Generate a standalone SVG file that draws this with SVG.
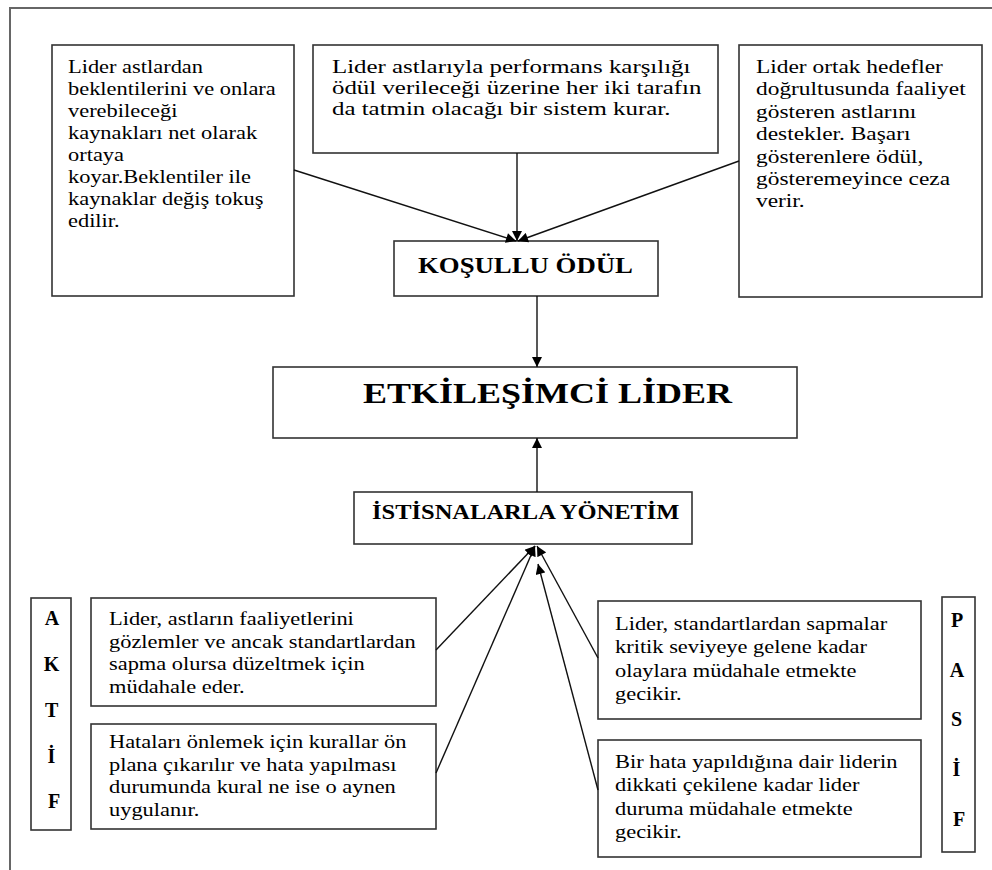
<svg xmlns="http://www.w3.org/2000/svg" width="992" height="870" viewBox="0 0 992 870">
<defs>
<style>
.box{fill:#fff;stroke:#333;stroke-width:1.6}
.t{font-family:"Liberation Serif","Times New Roman",serif;fill:#000}
.b{font-family:"Liberation Serif","Times New Roman",serif;font-weight:bold;fill:#000}
.con{fill:none;stroke:#111;stroke-width:1.4}
.frame{fill:none;stroke:#666;stroke-width:2}
</style>
<marker id="ah" viewBox="0 0 10 10" refX="10" refY="5" markerWidth="11" markerHeight="10" markerUnits="userSpaceOnUse" orient="auto">
<path d="M0,0 L10,5 L0,10 z" fill="#000"/>
</marker>
</defs>
<rect width="992" height="870" fill="#fff"/>
<path class="frame" d="M10,870 L10,8 L992,8"/>

<g id="n-left-top">
<rect class="box" x="52" y="45" width="242" height="251"/>
<text class="t" font-size="19" transform="translate(68,73) scale(1.18,1)">
<tspan x="0" y="0">Lider astlardan</tspan>
<tspan x="0" y="22">beklentilerini ve onlara</tspan>
<tspan x="0" y="44">verebileceği</tspan>
<tspan x="0" y="66">kaynakları net olarak</tspan>
<tspan x="0" y="88">ortaya</tspan>
<tspan x="0" y="110">koyar.Beklentiler ile</tspan>
<tspan x="0" y="132">kaynaklar değiş tokuş</tspan>
<tspan x="0" y="154">edilir.</tspan>
</text>
</g>

<g id="n-mid-top">
<rect class="box" x="313" y="45" width="405" height="108"/>
<text class="t" font-size="19" transform="translate(332,73) scale(1.31,1)">
<tspan x="0" y="0">Lider astlarıyla performans karşılığı</tspan>
<tspan x="0" y="21">ödül verileceği üzerine her iki tarafın</tspan>
<tspan x="0" y="42">da tatmin olacağı bir sistem kurar.</tspan>
</text>
</g>

<g id="n-right-top">
<rect class="box" x="739" y="45" width="243" height="252"/>
<text class="t" font-size="19.5" transform="translate(756,73) scale(1.2,1)">
<tspan x="0" y="0">Lider ortak hedefler</tspan>
<tspan x="0" y="22.4">doğrultusunda faaliyet</tspan>
<tspan x="0" y="44.8">gösteren astlarını</tspan>
<tspan x="0" y="67.2">destekler. Başarı</tspan>
<tspan x="0" y="89.6">gösterenlere ödül,</tspan>
<tspan x="0" y="112">gösteremeyince ceza</tspan>
<tspan x="0" y="134.4">verir.</tspan>
</text>
</g>

<g id="n-kosullu">
<rect class="box" x="394" y="241" width="264" height="55"/>
<text class="b" font-size="22.5" transform="translate(418,273) scale(1.19,1)">KOŞULLU ÖDÜL</text>
</g>

<g id="n-etkilesimci">
<rect class="box" x="273" y="367" width="524" height="71"/>
<text class="b" font-size="30" transform="translate(363,403) scale(1.2,1)">ETKİLEŞİMCİ LİDER</text>
</g>

<g id="n-istisnalarla">
<rect class="box" x="354" y="492" width="338" height="52"/>
<text class="b" font-size="21.5" transform="translate(372,519) scale(1.14,1)">İSTİSNALARLA YÖNETİM</text>
</g>

<g id="n-aktif">
<rect class="box" x="31" y="598" width="40" height="232"/>
<text class="b" font-size="20" text-anchor="middle">
<tspan x="54" y="625">A</tspan>
<tspan x="54" y="671">K</tspan>
<tspan x="54" y="717">T</tspan>
<tspan x="54" y="763">İ</tspan>
<tspan x="54" y="808">F</tspan>
</text>
</g>

<g id="n-left-1">
<rect class="box" x="91" y="598" width="345" height="108"/>
<text class="t" font-size="19" transform="translate(109,625) scale(1.18,1)">
<tspan x="0" y="0">Lider, astların faaliyetlerini</tspan>
<tspan x="0" y="22.6">gözlemler ve ancak standartlardan</tspan>
<tspan x="0" y="45.2">sapma olursa düzeltmek için</tspan>
<tspan x="0" y="67.8">müdahale eder.</tspan>
</text>
</g>

<g id="n-left-2">
<rect class="box" x="91" y="724" width="345" height="105"/>
<text class="t" font-size="19" transform="translate(109,748) scale(1.18,1)">
<tspan x="0" y="0">Hataları önlemek için kurallar ön</tspan>
<tspan x="0" y="22.6">plana çıkarılır ve hata yapılması</tspan>
<tspan x="0" y="45.2">durumunda kural ne ise o aynen</tspan>
<tspan x="0" y="67.8">uygulanır.</tspan>
</text>
</g>

<g id="n-right-1">
<rect class="box" x="598" y="601" width="323" height="118"/>
<text class="t" font-size="19" transform="translate(615,630) scale(1.18,1)">
<tspan x="0" y="0">Lider, standartlardan sapmalar</tspan>
<tspan x="0" y="23.5">kritik seviyeye gelene kadar</tspan>
<tspan x="0" y="47">olaylara müdahale etmekte</tspan>
<tspan x="0" y="70.5">gecikir.</tspan>
</text>
</g>

<g id="n-right-2">
<rect class="box" x="598" y="740" width="323" height="117"/>
<text class="t" font-size="19" transform="translate(615,768) scale(1.18,1)">
<tspan x="0" y="0">Bir hata yapıldığına dair liderin</tspan>
<tspan x="0" y="23.5">dikkati çekilene kadar lider</tspan>
<tspan x="0" y="47">duruma müdahale etmekte</tspan>
<tspan x="0" y="70.5">gecikir.</tspan>
</text>
</g>

<g id="n-pasif">
<rect class="box" x="942" y="597" width="33" height="255"/>
<text class="b" font-size="20" text-anchor="middle">
<tspan x="959" y="627">P</tspan>
<tspan x="959" y="677">A</tspan>
<tspan x="959" y="726">S</tspan>
<tspan x="959" y="776">İ</tspan>
<tspan x="959" y="826">F</tspan>
</text>
</g>

<g id="connectors">
<path class="con" d="M294,170 L516,241" marker-end="url(#ah)"/>
<path class="con" d="M517,153 L517,241" marker-end="url(#ah)"/>
<path class="con" d="M739,161 L518,241" marker-end="url(#ah)"/>
<path class="con" d="M537,296 L537,367" marker-end="url(#ah)"/>
<path class="con" d="M537,492 L537,438" marker-end="url(#ah)"/>
<path class="con" d="M436,650 L535,546" marker-end="url(#ah)"/>
<path class="con" d="M436,773 L535,546" marker-end="url(#ah)"/>
<path class="con" d="M598,658 L537,546" marker-end="url(#ah)"/>
<path class="con" d="M598,790 L538,564" marker-end="url(#ah)"/>
</g>
</svg>
